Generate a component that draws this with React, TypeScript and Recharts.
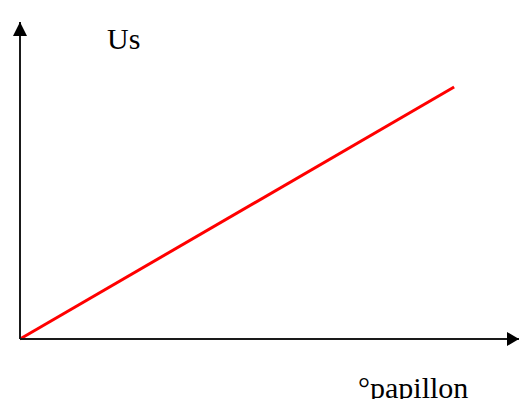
import { LineChart, Line, XAxis, YAxis } from 'recharts'

// papillon (x) vs Us (y), straight line through the origin
const papillon = [0, 8.7]
const us = [0, 7.95]
const xDomain: [number, number] = [0, 10]
const yDomain: [number, number] = [0, 10]
const yLabel = 'Us'
const xLabel = '°papillon'

const data = papillon.map((p, i) => ({ papillon: p, us: us[i] }))

const serif = '"Liberation Serif", "Times New Roman", serif'
const axisInk = '#1a1a1a'

export default function App() {
  return (
    <div style={{ position: 'absolute', left: 0, top: 0, width: 520, height: 405, background: '#fff' }}>
      <LineChart width={520} height={405} data={data} margin={{ top: 22, right: 1, left: 19, bottom: 65 }}>
        <defs>
          <marker id="arrowY" viewBox="0 0 14 14" refX={14} refY={7} markerWidth={14} markerHeight={14}
            markerUnits="userSpaceOnUse" orient="auto-start-reverse">
            <path d="M0,0 L14,7 L0,14 z" fill="#000" />
          </marker>
          <marker id="arrowX" viewBox="0 0 12 14" refX={12} refY={7} markerWidth={12} markerHeight={14}
            markerUnits="userSpaceOnUse" orient="auto">
            <path d="M0,0 L12,7 L0,14 z" fill="#000" />
          </marker>
        </defs>
        <XAxis
          dataKey="papillon"
          type="number"
          domain={xDomain}
          height={1}
          tick={false}
          tickLine={false}
          axisLine={{ stroke: axisInk, strokeWidth: 2, markerEnd: 'url(#arrowX)' }}
        />
        <YAxis
          type="number"
          domain={yDomain}
          width={1}
          tick={false}
          tickLine={false}
          axisLine={{ stroke: axisInk, strokeWidth: 2, markerStart: 'url(#arrowY)' }}
        />
        <Line
          dataKey="us"
          type="linear"
          stroke="#ff0000"
          strokeWidth={3}
          dot={false}
          activeDot={false}
          isAnimationActive={false}
        />
        <text x={107} y={49} fontFamily={serif} fontSize={30} fill="#000">{yLabel}</text>
        <text x={358} y={398} fontFamily={serif} fontSize={30} fill="#000">{xLabel}</text>
        <rect x={340} y={399} width={180} height={6} fill="#fff" />
      </LineChart>
    </div>
  )
}
